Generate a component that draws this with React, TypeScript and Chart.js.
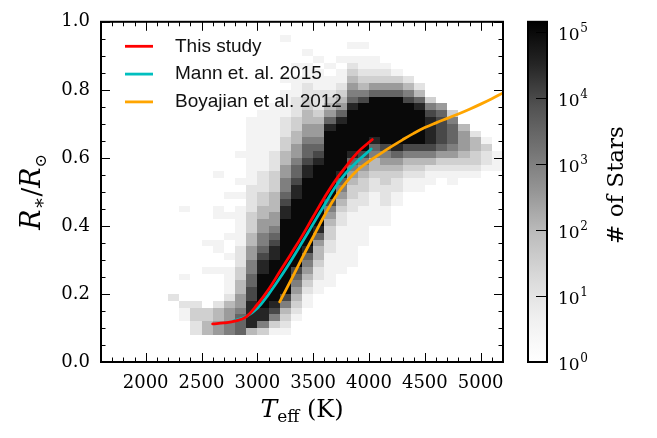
import React, { useEffect, useRef } from "react";
import { Chart, registerables } from "chart.js";

Chart.register(...registerables);

// ---------------- data ----------------
// 2D histogram: Teff bins (100 K wide) x radius bins (0.02 wide)
const tempBinStarts = [2200, 2300, 2400, 2500, 2600, 2700, 2800, 2900, 3000, 3100, 3200, 3300, 3400, 3500, 3600, 3700, 3800, 3900, 4000, 4100, 4200, 4300, 4400, 4500, 4600, 4700, 4800, 4900, 5000, 5100];
const tempBinWidth = 100;
const radiusBinHeight = 0.02;
// index of the first radius bin listed for each Teff column
const firstRadiusBin = [9, 6, 4, 4, 4, 4, 4, 4, 4, 4, 4, 6, 8, 10, 11, 13, 14, 17, 20, 20, 23, 25, 25, 26, 27, 26, 27, 27, 28, 28];
// each character = 2*log10(count) ("a" = 10), "." = empty bin
const densityLevels = [
  "2",
  "112...1.........1",
  "22332",
  "4433.....1...1",
  "55442....1..11...11....1",
  "6655421111.1..1..1..1",
  "7776554433222111111.1.1...1",
  "49999887766554433322221111111111",
  "3699aaaaa998766554433222111111111",
  "13689aaaaaa99876554443332221111111",
  "123468aaaaaaaaaaa9987665544332221111.1.....1",
  "12345678aaaaaaaaaa998776554433222111.1",
  "112345679aaaaaaaaaa99877655443322111.1",
  "1122344579aaaaaaaaa98765543222111.1",
  "1111122334568aaaaaaaaaa97543211.1",
  "111111122345679aaaaaaa97543211.1",
  "11111111223345679aaaaaa97654321.1",
  "11111122334568aaaaaaa8643211.1",
  "1111122344679aaaaaa753211",
  "111222334568aaaaaaa75321",
  "112234579aaaaaaa7531",
  "1123468aaaaaa8642",
  "1123468aaaaa9742",
  "1124689999863",
  "12357888875",
  "11235677763",
  "12345554",
  "1233442",
  "12231",
  "111",
];

const thisStudyTeff = [2600, 2700, 2800, 2900, 3000, 3100, 3200, 3300, 3400, 3500, 3600, 3700, 3800, 3900, 4000, 4030];
const thisStudyRadius = [0.112, 0.115, 0.12, 0.133, 0.169, 0.213, 0.265, 0.317, 0.37, 0.427, 0.483, 0.534, 0.577, 0.617, 0.646, 0.654];
const mannTeff = [2790, 2900, 3000, 3100, 3200, 3300, 3400, 3500, 3600, 3700, 3800, 3900, 4000, 4020];
const mannRadius = [0.121, 0.134, 0.158, 0.199, 0.246, 0.297, 0.351, 0.406, 0.461, 0.515, 0.558, 0.591, 0.62, 0.626];
const boyajianTeff = [3200, 3300, 3400, 3500, 3600, 3700, 3800, 3900, 4000, 4100, 4200, 4300, 4400, 4500, 4600, 4700, 4800, 4900, 5000, 5100, 5200];
const boyajianRadius = [0.177, 0.24, 0.305, 0.368, 0.43, 0.486, 0.53, 0.565, 0.59, 0.612, 0.633, 0.653, 0.672, 0.689, 0.703, 0.716, 0.729, 0.743, 0.758, 0.774, 0.791];

const seriesLabels = ["This study", "Mann et. al. 2015", "Boyajian et al. 2012"];

const xTickValues = [2000, 2500, 3000, 3500, 4000, 4500, 5000];
const yTickValues = [0, 0.2, 0.4, 0.6, 0.8, 1.0];
const colorbarDecades = [0, 1, 2, 3, 4, 5];
const colorbarMaxLog = 5.15;

// ---------------- styling helpers ----------------
const SERIF = '"DejaVu Serif", serif';
const SANS = '"Liberation Sans", Arial, sans-serif';
const greysStops = [255, 240, 217, 189, 150, 115, 82, 37, 0];

function greys(v: number): string {
  const c = Math.max(0, Math.min(1, v));
  const p = c * 8;
  const i = Math.min(7, Math.floor(p));
  const t = p - i;
  const g = Math.round(greysStops[i] + (greysStops[i + 1] - greysStops[i]) * t);
  return `rgb(${g},${g},${g})`;
}

type Run = { text: string; font: string; dy: number };

function drawRuns(ctx: CanvasRenderingContext2D, runs: Run[], cx: number, cy: number, angle: number) {
  ctx.save();
  ctx.translate(cx, cy);
  ctx.rotate(angle);
  ctx.textAlign = "left";
  ctx.textBaseline = "alphabetic";
  ctx.fillStyle = "#000";
  const widths = runs.map((r) => {
    ctx.font = r.font;
    return ctx.measureText(r.text).width;
  });
  const total = widths.reduce((a, b) => a + b, 0);
  let x = -total / 2;
  runs.forEach((r, i) => {
    ctx.font = r.font;
    ctx.fillText(r.text, x, r.dy);
    x += widths[i];
  });
  ctx.restore();
}

const heatmapPlugin = {
  id: "heatmap",
  beforeDatasetsDraw(chart: any) {
    const { ctx, chartArea: a, scales } = chart;
    const xs = scales.x;
    const ys = scales.y;
    ctx.save();
    ctx.beginPath();
    ctx.rect(a.left, a.top, a.right - a.left, a.bottom - a.top);
    ctx.clip();
    tempBinStarts.forEach((t, ci) => {
      const levels = densityLevels[ci];
      const x0 = Math.round(xs.getPixelForValue(t));
      const x1 = Math.round(xs.getPixelForValue(t + tempBinWidth));
      for (let k = 0; k < levels.length; k++) {
        const ch = levels[k];
        if (ch === ".") continue;
        const level = parseInt(ch, 36);
        const logCount = level / 2;
        const bin = firstRadiusBin[ci] + k;
        const yb = Math.round(ys.getPixelForValue(bin * radiusBinHeight));
        const yt = Math.round(ys.getPixelForValue((bin + 1) * radiusBinHeight));
        ctx.fillStyle = greys(logCount / colorbarMaxLog);
        ctx.fillRect(x0, yt, x1 - x0, yb - yt);
      }
    });
    ctx.restore();
  },
};

const decorPlugin = {
  id: "decor",
  afterDraw(chart: any) {
    const { ctx, chartArea: a, scales } = chart;
    const xs = scales.x;
    const ys = scales.y;
    ctx.save();
    ctx.strokeStyle = "#000";
    ctx.lineWidth = 1;
    const majorLen = 9;
    const minorLen = 4.5;
    // x ticks (bottom + top, inward)
    for (let v = xs.min; v <= xs.max + 1e-6; v += 100) {
      const px = Math.round(xs.getPixelForValue(v)) + 0.5;
      const len = v % 500 === 0 ? majorLen : minorLen;
      ctx.beginPath();
      ctx.moveTo(px, a.bottom);
      ctx.lineTo(px, a.bottom - len);
      ctx.moveTo(px, a.top);
      ctx.lineTo(px, a.top + len);
      ctx.stroke();
    }
    // y ticks (left + right, inward)
    for (let i = 0; i <= 20; i++) {
      const v = i * 0.05;
      const py = Math.round(ys.getPixelForValue(v)) + 0.5;
      const len = i % 4 === 0 ? majorLen : minorLen;
      ctx.beginPath();
      ctx.moveTo(a.left, py);
      ctx.lineTo(a.left + len, py);
      ctx.moveTo(a.right, py);
      ctx.lineTo(a.right - len, py);
      ctx.stroke();
    }
    // frame
    ctx.lineWidth = 2;
    ctx.strokeRect(a.left, a.top, a.right - a.left, a.bottom - a.top);

    // legend
    const ds = chart.data.datasets;
    ds.forEach((d: any, i: number) => {
      const yy = a.top + 24.5 + i * 27.8;
      ctx.strokeStyle = d.borderColor;
      ctx.lineWidth = 2.8;
      ctx.beginPath();
      ctx.moveTo(a.left + 24, yy);
      ctx.lineTo(a.left + 52, yy);
      ctx.stroke();
      ctx.fillStyle = "#111";
      ctx.font = `19px ${SANS}`;
      ctx.textAlign = "left";
      ctx.textBaseline = "middle";
      ctx.fillText(d.label, a.left + 74, yy);
    });

    // colorbar
    const cbLeft = a.right + 25;
    const cbW = 19;
    const cbTop = a.top;
    const cbBottom = a.bottom;
    const grad = ctx.createLinearGradient(0, cbBottom, 0, cbTop);
    for (let i = 0; i <= 16; i++) {
      const v = i / 16;
      grad.addColorStop(v, greys(v));
    }
    ctx.fillStyle = grad;
    ctx.fillRect(cbLeft, cbTop, cbW, cbBottom - cbTop);
    ctx.strokeStyle = "#000";
    ctx.lineWidth = 1;
    colorbarDecades.forEach((d) => {
      const py = Math.round(cbBottom - (d / colorbarMaxLog) * (cbBottom - cbTop)) + 0.5;
      ctx.beginPath();
      ctx.moveTo(cbLeft + cbW, py);
      ctx.lineTo(cbLeft + cbW - 11, py);
      ctx.stroke();
      ctx.fillStyle = "#000";
      ctx.textAlign = "left";
      ctx.textBaseline = "alphabetic";
      ctx.font = `17px ${SERIF}`;
      const base = "10";
      const bw = ctx.measureText(base).width;
      ctx.fillText(base, cbLeft + cbW + 11, py + 7);
      ctx.font = `12px ${SERIF}`;
      ctx.fillText(String(d), cbLeft + cbW + 11 + bw + 0.5, py - 1);
    });
    ctx.lineWidth = 2;
    ctx.strokeRect(cbLeft, cbTop, cbW, cbBottom - cbTop);

    // axis titles
    drawRuns(
      ctx,
      [
        { text: "T", font: `italic 25px ${SERIF}`, dy: 0 },
        { text: "eff", font: `17px ${SERIF}`, dy: 5 },
        { text: " (K)", font: `24px ${SERIF}`, dy: 0 },
      ],
      (a.left + a.right) / 2,
      417,
      0
    );
    drawRuns(
      ctx,
      [
        { text: "R", font: `italic 27px ${SERIF}`, dy: 0 },
        { text: "\u2217", font: `19px ${SERIF}`, dy: 5 },
        { text: "/", font: `26px ${SERIF}`, dy: 0 },
        { text: "R", font: `italic 27px ${SERIF}`, dy: 0 },
        { text: "\u2299", font: `16px ${SERIF}`, dy: 6 },
      ],
      40,
      (a.top + a.bottom) / 2,
      -Math.PI / 2
    );
    drawRuns(ctx, [{ text: "# of Stars", font: `23px ${SERIF}`, dy: 0 }], 623, 185, -Math.PI / 2);
    ctx.restore();
  },
};

function toPoints(xv: number[], yv: number[]) {
  return xv.map((x, i) => ({ x, y: yv[i] }));
}

export default function App() {
  const ref = useRef<HTMLCanvasElement | null>(null);

  useEffect(() => {
    if (!ref.current) return;
    const lineStyle = {
      borderWidth: 2.8,
      pointRadius: 0,
      fill: false,
      tension: 0.4,
      borderCapStyle: "round" as const,
      borderJoinStyle: "round" as const,
    };
    const chart = new Chart(ref.current, {
      type: "line",
      data: {
        datasets: [
          { label: seriesLabels[0], data: toPoints(thisStudyTeff, thisStudyRadius), borderColor: "#ff0000", ...lineStyle },
          { label: seriesLabels[1], data: toPoints(mannTeff, mannRadius), borderColor: "#00bfbf", ...lineStyle },
          { label: seriesLabels[2], data: toPoints(boyajianTeff, boyajianRadius), borderColor: "#ffa500", ...lineStyle },
        ],
      },
      options: {
        animation: false,
        responsive: false,
        devicePixelRatio: 1,
        layout: { padding: { top: 8, right: 154, left: 0, bottom: 0 } },
        plugins: { legend: { display: false }, tooltip: { enabled: false } },
        scales: {
          x: {
            type: "linear",
            min: 1600,
            max: 5200,
            grid: { display: false, drawTicks: false },
            border: { display: false },
            ticks: {
              color: "#000",
              font: { family: SERIF, size: 18 },
              padding: 11,
              autoSkip: false,
              maxRotation: 0,
              callback: (v: any) => String(v),
            },
            afterBuildTicks: (s: any) => {
              s.ticks = xTickValues.map((v) => ({ value: v }));
            },
            afterFit: (s: any) => {
              s.height = 76;
            },
          },
          y: {
            type: "linear",
            min: 0,
            max: 1,
            grid: { display: false, drawTicks: false },
            border: { display: false },
            ticks: {
              color: "#000",
              font: { family: SERIF, size: 18 },
              padding: 11,
              autoSkip: false,
              callback: (v: any) => Number(v).toFixed(1),
            },
            afterBuildTicks: (s: any) => {
              s.ticks = yTickValues.map((v) => ({ value: v }));
            },
            afterFit: (s: any) => {
              s.width = 101;
            },
          },
        },
      },
      plugins: [heatmapPlugin, decorPlugin],
    } as any);
    return () => chart.destroy();
  }, []);

  return (
    <div style={{ position: "fixed", left: 0, top: 0, width: 657, height: 438, background: "#fff" }}>
      <canvas ref={ref} width={657} height={438} />
    </div>
  );
}
